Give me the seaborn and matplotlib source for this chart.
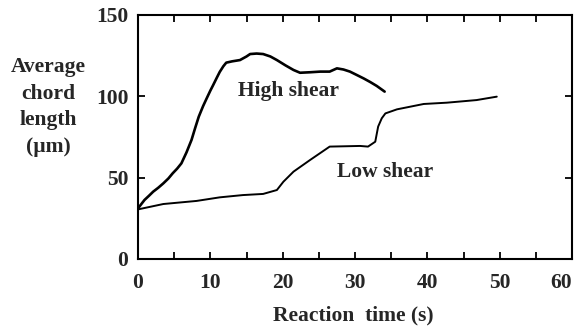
import matplotlib
matplotlib.use("Agg")
import numpy as np
import pandas as pd
import seaborn as sns
import matplotlib.pyplot as plt
from matplotlib.ticker import MultipleLocator

# valores
high_t = [0, 0.5, 0.9, 1.5, 2.1, 2.8, 3.5, 4.2, 4.8, 5.4, 6.0, 6.7, 7.4, 7.9, 8.4, 9.0, 9.5,
          10.0, 10.4, 10.9, 11.3, 11.8, 12.2, 13.0, 14.1, 15.0, 15.5, 16.4, 17.3, 18.3, 19.2,
          20.4, 21.5, 22.4, 23.8, 25.2, 26.5, 27.5, 28.4, 29.3, 30.3, 31.2, 32.1, 33.0, 34.1]
high_y = [31.1, 34.0, 36.3, 38.8, 41.4, 43.8, 46.5, 49.5, 52.7, 55.5, 58.8, 65.5, 73.2, 80.5,
          87.5, 94.0, 98.8, 103.5, 107, 111.5, 115, 118.5, 120.7, 121.5, 122.3, 124.5, 126,
          126.3, 126, 124.5, 122.3, 119.0, 116.2, 114.5, 114.8, 115.2, 115.2, 117.2, 116.5,
          115.2, 113.0, 111, 108.8, 106.4, 102.9]

low_t = [0, 3.5, 8.1, 11.3, 14.5, 17.3, 19.2, 20.1, 21.5, 23.8, 26.5, 30.7, 31.8, 32.8,
         33.2, 33.7, 34.2, 35.8, 39.5, 42.7, 46.8, 49.6]
low_y = [30.5, 33.8, 35.7, 37.9, 39.3, 40, 42.4, 47.5, 53.7, 60.9, 69.1, 69.5, 69.1, 72.1,
         81.4, 86.5, 89.5, 92, 95.3, 96.1, 97.7, 99.8]

df_high = pd.DataFrame({"t": high_t, "y": high_y})
df_low = pd.DataFrame({"t": low_t, "y": low_y})

sns.set_style("ticks")
plt.rcParams['font.family'] = ['Liberation Serif', 'DejaVu Serif']
plt.rcParams['font.weight'] = 'bold'

fs = 15.5
fig = plt.figure(figsize=(5.78, 3.27), dpi=100)
ax = fig.add_axes([138 / 578, (327 - 259) / 327, 434 / 578, 244 / 327])

sns.lineplot(data=df_high, x="t", y="y", ax=ax, color="black", linewidth=1.9)
sns.lineplot(data=df_low, x="t", y="y", ax=ax, color="black", linewidth=1.4)

ax.set_xlim(0, 60)
ax.set_ylim(0, 150)
ax.xaxis.set_major_locator(MultipleLocator(10))
ax.xaxis.set_minor_locator(MultipleLocator(5))
ax.yaxis.set_major_locator(MultipleLocator(50))
ax.tick_params(which="both", direction="in", top=True, right=True, width=1.3,
               labelsize=fs, pad=7, color="black", length=5)
ax.tick_params(axis="x", which="major", pad=10)
for lab in ax.get_xticklabels() + ax.get_yticklabels():
    lab.set_fontweight("bold")
for sp in ax.spines.values():
    sp.set_linewidth(1.5)
    sp.set_color("black")

# el "60" queda pegado al borde: lo alineamos a la derecha del tick
ticks = ax.xaxis.get_major_ticks()
for tk in ticks:
    if abs(tk.get_loc() - 60) < 1e-6:
        tk.label1.set_horizontalalignment("right")

ax.set_xlabel("")
ax.set_ylabel("")
ax.text(20.8, 103.5, "High shear", ha="center", va="center", fontsize=fs, fontweight="bold")
ax.text(34.2, 53.7, "Low shear", ha="center", va="center", fontsize=fs, fontweight="bold")

fig.text(48 / 578, 1 - 107 / 327, "Average\nchord\nlength\n(\u00b5m)", ha="center", va="center",
         multialignment="center", fontsize=fs, fontweight="bold", linespacing=1.45)
fig.text(353 / 578, 1 - 315 / 327, "Reaction  time (s)", ha="center", va="center",
         fontsize=fs, fontweight="bold")

fig.savefig("out.png", dpi=100)
